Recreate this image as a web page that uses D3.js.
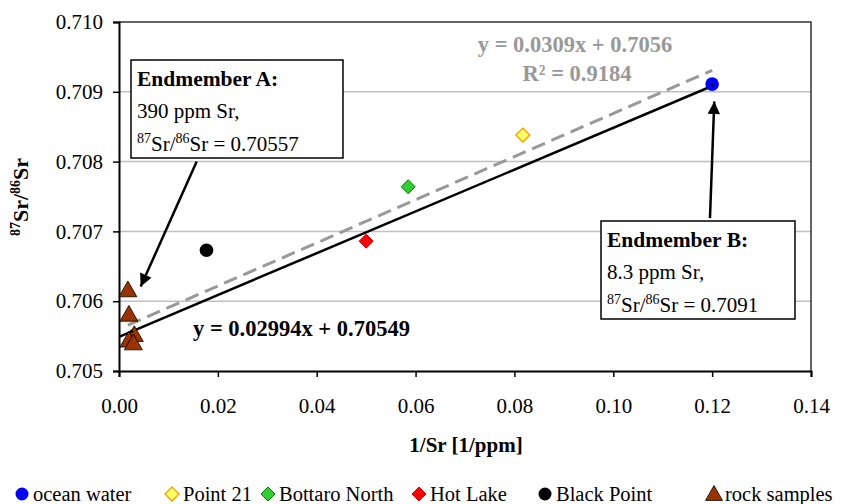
<!DOCTYPE html>
<html><head><meta charset="utf-8">
<script src="https://cdn.jsdelivr.net/npm/d3@7"></script>
<style>
body{margin:0;background:#fff;}
svg text{font-family:'Liberation Serif','Times New Roman',Times,'Nimbus Roman','DejaVu Serif',serif;}
</style></head>
<body><svg id="c" width="850" height="504"></svg>
<script>
// ---- data ----
const xTickValues = [0, 0.02, 0.04, 0.06, 0.08, 0.10, 0.12, 0.14];
const yTickValues = [0.705, 0.706, 0.707, 0.708, 0.709, 0.710];
const seriesNames = ["ocean water", "Point 21", "Bottaro North", "Hot Lake", "Black Point", "rock samples"];
const oceanX = [0.1200], oceanY = [0.70911];
const point21X = [0.0817], point21Y = [0.70838];
const bottaroX = [0.0585], bottaroY = [0.70764];
const hotLakeX = [0.0500], hotLakeY = [0.70686];
const blackPointX = [0.0177], blackPointY = [0.70673];
const rockX = [0.0018, 0.0020, 0.0031, 0.0020, 0.0029];
const rockY = [0.70616, 0.70581, 0.70552, 0.70544, 0.70540];
const endmemberX = [0.00256, 0.1200];
const endmemberY = [0.70557, 0.7091];
const mixingFit = [0.02994, 0.70549];   // slope, intercept
const trendFit = [0.0309, 0.7056];      // slope, intercept
const mixingRange = [0, 0.1200];
const trendRange = [0.0018, 0.1200];
const arrowA = [[0.01572, 0.70800], [0.00439, 0.70621]];
const arrowB = [[0.11956, 0.70719], [0.12043, 0.70886]];

// ---- layout ----
const FONT = "'Liberation Serif','Times New Roman',Times,'Nimbus Roman','DejaVu Serif',serif";
const svg = d3.select("#c").attr("font-family", FONT);
const L = 119, R = 811, T = 22, B = 371;
const x = d3.scaleLinear().domain([0, 0.14]).range([L, R]);
const y = d3.scaleLinear().domain([0.705, 0.710]).range([B, T]);
const fs = 21;

// gridlines
svg.append("g").selectAll("line").data(yTickValues.filter(v => v > 0.705 && v < 0.710)).join("line")
  .attr("x1", L).attr("x2", R).attr("y1", d => y(d)).attr("y2", d => y(d))
  .attr("stroke", "#c0c0c0").attr("stroke-width", 1.5);
// plot border top/right
svg.append("path").attr("d", `M${L},${T}H${R}V${B}`).attr("fill", "none").attr("stroke", "#333").attr("stroke-width", 1.5);

// axes
const xAxis = svg.append("g").attr("transform", `translate(0,${B})`)
  .call(d3.axisBottom(x).tickValues(xTickValues).tickFormat(d3.format(".2f")).tickSize(6).tickPadding(21));
const yAxis = svg.append("g").attr("transform", `translate(${L},0)`)
  .call(d3.axisLeft(y).tickValues(yTickValues).tickFormat(d3.format(".3f")).tickSize(6).tickPadding(10));
[xAxis, yAxis].forEach(g => {
  g.attr("font-family", FONT).attr("font-size", fs);
  g.select(".domain").attr("stroke", "#000").attr("stroke-width", 2);
  g.selectAll(".tick line").attr("stroke", "#000").attr("stroke-width", 1.5);
  g.selectAll(".tick text").attr("fill", "#000");
});

// lines
const lineGen = d3.line().x(d => x(d[0])).y(d => y(d[1]));
svg.append("path").datum(trendRange.map(v => [v, trendFit[0] * v + trendFit[1]]))
  .attr("d", lineGen).attr("stroke", "#999").attr("stroke-width", 3).attr("stroke-dasharray", "14,7").attr("fill", "none");
svg.append("path").datum(mixingRange.map(v => [v, mixingFit[0] * v + mixingFit[1]]))
  .attr("d", lineGen).attr("stroke", "#000").attr("stroke-width", 2.5).attr("fill", "none");

// markers
const diamond = s => `M0,${-s}L${s},0L0,${s}L${-s},0Z`;
const tri = s => `M0,${-s}L${s},${s * 0.75}L${-s},${s * 0.75}Z`;
function pts(xs, ys) { return xs.map((v, i) => [v, ys[i]]); }
svg.append("g").selectAll("path").data(pts(rockX, rockY)).join("path")
  .attr("d", tri(9)).attr("transform", d => `translate(${x(d[0])},${y(d[1])})`)
  .attr("fill", "#993300").attr("stroke", "#000").attr("stroke-width", 0.8);
svg.append("g").selectAll("circle").data(pts(blackPointX, blackPointY)).join("circle")
  .attr("cx", d => x(d[0])).attr("cy", d => y(d[1])).attr("r", 6.8).attr("fill", "#000");
svg.append("g").selectAll("path").data(pts(hotLakeX, hotLakeY)).join("path")
  .attr("d", diamond(7)).attr("transform", d => `translate(${x(d[0])},${y(d[1])})`).attr("fill", "#ff0000").attr("stroke", "#cc0000").attr("stroke-width", 1);
svg.append("g").selectAll("path").data(pts(bottaroX, bottaroY)).join("path")
  .attr("d", diamond(7)).attr("transform", d => `translate(${x(d[0])},${y(d[1])})`).attr("fill", "#33cc33").attr("stroke", "#008000").attr("stroke-width", 1);
svg.append("g").selectAll("path").data(pts(point21X, point21Y)).join("path")
  .attr("d", diamond(7)).attr("transform", d => `translate(${x(d[0])},${y(d[1])})`).attr("fill", "#ffff66").attr("stroke", "#ff9900").attr("stroke-width", 1.3);
svg.append("g").selectAll("circle").data(pts(oceanX, oceanY)).join("circle")
  .attr("cx", d => x(d[0])).attr("cy", d => y(d[1])).attr("r", 6.8).attr("fill", "#0000ff");
svg.append("g").selectAll("circle").data(pts(endmemberX, endmemberY)).join("circle")
  .attr("cx", d => x(d[0])).attr("cy", d => y(d[1])).attr("r", 1.6).attr("fill", "#000");

// arrows
const defs = svg.append("defs");
defs.append("marker").attr("id", "ah").attr("viewBox", "0 0 10 10").attr("refX", 10).attr("refY", 5)
  .attr("markerWidth", 5.5).attr("markerHeight", 5).attr("markerUnits", "strokeWidth").attr("orient", "auto")
  .append("path").attr("d", "M0,0L10,5L0,10Z").attr("fill", "#000");
[arrowA, arrowB].forEach(a => {
  svg.append("line").attr("x1", x(a[0][0])).attr("y1", y(a[0][1])).attr("x2", x(a[1][0])).attr("y2", y(a[1][1]))
    .attr("stroke", "#000").attr("stroke-width", 2.5).attr("marker-end", "url(#ah)");
});

// equations
svg.append("text").attr("x", 575).attr("y", 52).attr("text-anchor", "middle").attr("font-weight", "bold")
  .attr("font-size", 22.5).attr("fill", "#999").text(`y = ${trendFit[0]}x + ${trendFit[1]}`);
svg.append("text").attr("x", 577).attr("y", 81).attr("text-anchor", "middle").attr("font-weight", "bold")
  .attr("font-size", 22.5).attr("fill", "#999").text("R² = 0.9184");
svg.append("text").attr("x", 193).attr("y", 336).attr("font-weight", "bold").attr("font-size", 22.5).attr("fill", "#000")
  .text(`y = ${mixingFit[0]}x + ${mixingFit[1]}`);

// annotation boxes
function box(x0, y0, w, h, title, line2, ratio) {
  svg.append("rect").attr("x", x0).attr("y", y0).attr("width", w).attr("height", h)
    .attr("fill", "#fff").attr("stroke", "#000").attr("stroke-width", 1.5);
  svg.append("text").attr("x", x0 + 6).attr("y", y0 + 26).attr("font-weight", "bold").attr("font-size", 21.5).text(title);
  svg.append("text").attr("x", x0 + 6).attr("y", y0 + 58).attr("font-size", 21).text(line2);
  const t = svg.append("text").attr("x", x0 + 6).attr("y", y0 + 91).attr("font-size", 21);
  t.append("tspan").attr("font-size", 14).attr("dy", -8).text("87");
  t.append("tspan").attr("dy", 8).text("Sr/");
  t.append("tspan").attr("font-size", 14).attr("dy", -8).text("86");
  t.append("tspan").attr("dy", 8).text("Sr = " + ratio);
}
box(131, 60, 212, 98, "Endmember A:", "390 ppm Sr,", "0.70557");
box(601, 221, 194, 98, "Endmember B:", "8.3 ppm Sr,", "0.7091");

// axis titles
svg.append("text").attr("x", 466).attr("y", 452).attr("text-anchor", "middle").attr("font-weight", "bold")
  .attr("font-size", fs).text("1/Sr [1/ppm]");
const yt = svg.append("text").attr("transform", "translate(28,197) rotate(-90)").attr("text-anchor", "middle")
  .attr("font-weight", "bold").attr("font-size", 22);
yt.append("tspan").attr("font-size", 14).attr("dy", -8).text("87");
yt.append("tspan").attr("dy", 8).text("Sr/");
yt.append("tspan").attr("font-size", 14).attr("dy", -8).text("86");
yt.append("tspan").attr("dy", 8).text("Sr");

// legend
const legendX = [22, 172, 268, 419, 545, 714];
const lg = svg.append("g").attr("font-size", 20.5);
seriesNames.forEach((n, i) => {
  const cx = legendX[i], cy = 494;
  const g = lg.append("g").attr("transform", `translate(${cx},${cy})`);
  if (i === 0) g.append("circle").attr("r", 6.5).attr("fill", "#0000ff");
  if (i === 1) g.append("path").attr("d", diamond(7)).attr("fill", "#ffff66").attr("stroke", "#ff9900").attr("stroke-width", 1.3);
  if (i === 2) g.append("path").attr("d", diamond(7)).attr("fill", "#33cc33").attr("stroke", "#008000");
  if (i === 3) g.append("path").attr("d", diamond(7)).attr("fill", "#ff0000").attr("stroke", "#cc0000");
  if (i === 4) g.append("circle").attr("r", 6.5).attr("fill", "#000");
  if (i === 5) g.append("path").attr("d", tri(8.5)).attr("fill", "#993300").attr("stroke", "#000").attr("stroke-width", 0.8);
  lg.append("text").attr("x", cx + 11).attr("y", cy + 7).text(n);
});
</script></body></html>
